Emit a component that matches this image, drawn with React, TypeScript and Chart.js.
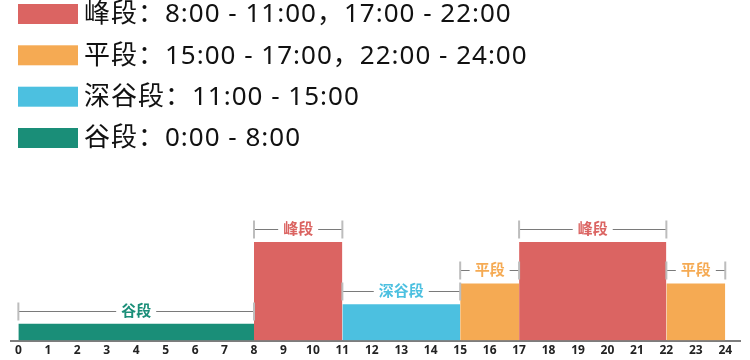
import React, { useEffect, useRef } from "react";
import { Chart, registerables } from "chart.js";

Chart.register(...registerables);

// Tariff tiers
const tierNames = ["峰段", "平段", "深谷段", "谷段"];
const tierRanges = [
  "8:00 - 11:00，17:00 - 22:00",
  "15:00 - 17:00，22:00 - 24:00",
  "11:00 - 15:00",
  "0:00 - 8:00",
];
const tierValues = [1.0, 0.58, 0.37, 0.17];
const tierColors = ["#DB6462", "#F5AA53", "#4CC0E0", "#1A8E78"];

// Time segments (hours) and the tier each belongs to
const segmentStart = [0, 8, 11, 15, 17, 22];
const segmentEnd = [8, 11, 15, 17, 22, 24];
const segmentTier = [3, 0, 2, 1, 0, 1];

// X-axis tick labels
const hourTicks = [0, 1, 2, 3, 4, 5, 6, 7, 8, 9, 10, 11, 12, 13, 14, 15, 16, 17, 18, 19, 20, 21, 22, 23, 24];

const FONT = "'Noto Sans', 'Noto Sans CJK SC', sans-serif";

const bracketPlugin = {
  id: "bracketPlugin",
  afterDatasetsDraw(chart: any) {
    const { ctx, scales } = chart;
    const xs = scales.x;
    const ys = scales.y;
    ctx.save();
    segmentStart.forEach((s, i) => {
      const t = segmentTier[i];
      const x1 = xs.getPixelForValue(s);
      const x2 = xs.getPixelForValue(segmentEnd[i]);
      const y = Math.round(ys.getPixelForValue(tierValues[t]) - 13) + 0.5;
      const label = tierNames[t];
      ctx.font = `bold 15px ${FONT}`;
      const tw = ctx.measureText(label).width;
      const cx = (x1 + x2) / 2;
      const gap = 5;
      ctx.strokeStyle = "#7a7a7a";
      ctx.lineWidth = 1;
      ctx.beginPath();
      ctx.moveTo(x1, y);
      ctx.lineTo(cx - tw / 2 - gap, y);
      ctx.moveTo(cx + tw / 2 + gap, y);
      ctx.lineTo(x2, y);
      ctx.stroke();
      ctx.strokeStyle = "#bdbdbd";
      ctx.lineWidth = 2;
      ctx.beginPath();
      ctx.moveTo(x1, y - 9);
      ctx.lineTo(x1, y + 9);
      ctx.moveTo(x2, y - 9);
      ctx.lineTo(x2, y + 9);
      ctx.stroke();
      ctx.fillStyle = tierColors[t];
      ctx.textAlign = "center";
      ctx.textBaseline = "middle";
      ctx.fillText(label, cx, y);
    });
    ctx.restore();
  },
};

const legendPlugin = {
  id: "customLegend",
  afterDraw(chart: any) {
    const { ctx } = chart;
    const rowCenters = [14, 55.3, 96.7, 138];
    ctx.save();
    tierNames.forEach((name, i) => {
      const cy = rowCenters[i];
      ctx.fillStyle = tierColors[i];
      ctx.fillRect(18, cy - 10, 60, 20);
      ctx.fillStyle = "#111";
      ctx.font = `26px ${FONT}`;
      try {
        (ctx as any).letterSpacing = "1px";
      } catch (e) {}
      ctx.textAlign = "left";
      ctx.textBaseline = "middle";
      ctx.fillText(`${name}：${tierRanges[i]}`, 84, cy + 1);
      try {
        (ctx as any).letterSpacing = "0px";
      } catch (e) {}
    });
    ctx.restore();
  },
};

export default function App() {
  const canvasRef = useRef<HTMLCanvasElement | null>(null);

  useEffect(() => {
    if (!canvasRef.current) return;
    const datasets = segmentStart.map((s, i) => {
      const t = segmentTier[i];
      return {
        label: tierNames[t],
        data: [
          { x: s, y: tierValues[t] },
          { x: segmentEnd[i], y: tierValues[t] },
        ],
        backgroundColor: tierColors[t],
        borderColor: tierColors[t],
        borderWidth: 0,
        pointRadius: 0,
        fill: "origin",
        tension: 0,
      };
    });
    const chart = new Chart(canvasRef.current, {
      type: "line",
      data: { datasets },
      options: {
        animation: false,
        responsive: false,
        maintainAspectRatio: false,
        layout: { padding: { top: 180, left: 11, right: 10, bottom: -1 } },
        plugins: {
          legend: { display: false },
          tooltip: { enabled: false },
        },
        scales: {
          x: {
            type: "linear",
            min: -0.25,
            max: 24.5,
            afterBuildTicks: (scale: any) => {
              scale.ticks = hourTicks.map((v) => ({ value: v }));
            },
            grid: { display: false, drawTicks: false },
            border: { display: true, color: "#7d7d7d", width: 2 },
            ticks: {
              autoSkip: false,
              maxRotation: 0,
              padding: 3,
              color: "#222",
              font: { family: FONT, size: 12, weight: "bold" },
              callback: (v: any) => String(v),
            },
          },
          y: {
            display: false,
            min: 0,
            max: 1.63,
          },
        },
      },
      plugins: [bracketPlugin, legendPlugin],
    });
    return () => chart.destroy();
  }, []);

  return (
    <div style={{ position: "fixed", left: 0, top: 0, width: 750, height: 360, background: "#fff" }}>
      <canvas ref={canvasRef} width={750} height={360} style={{ width: 750, height: 360 }} />
    </div>
  );
}
